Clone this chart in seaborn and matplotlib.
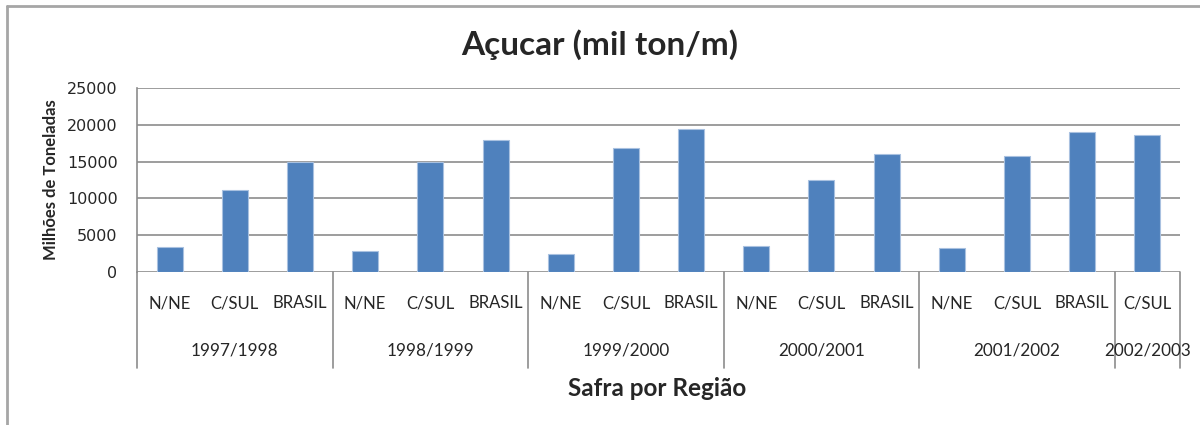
import seaborn as sns
import matplotlib.pyplot as plt
import pandas as pd
from matplotlib.lines import Line2D

# Safras e regiões
safras = ["1997/1998", "1998/1999", "1999/2000", "2000/2001", "2001/2002", "2002/2003"]
regioes = [
    ["N/NE", "C/SUL", "BRASIL"],
    ["N/NE", "C/SUL", "BRASIL"],
    ["N/NE", "C/SUL", "BRASIL"],
    ["N/NE", "C/SUL", "BRASIL"],
    ["N/NE", "C/SUL", "BRASIL"],
    ["C/SUL"],
]
valores = [
    [3400, 11200, 14900],
    [2800, 15000, 18000],
    [2400, 16800, 19400],
    [3600, 12500, 16000],
    [3200, 15800, 19000],
    [18600],
]

rows = []
for s, regs, vals in zip(safras, regioes, valores):
    for r, v in zip(regs, vals):
        rows.append({"key": f"{s} {r}", "safra": s, "regiao": r, "valor": v})
df = pd.DataFrame(rows)

sns.set_style("white")
plt.rcParams["font.family"] = ["Lato", "DejaVu Sans"]

fig = plt.figure(figsize=(12, 4.25), dpi=100)
ax = fig.add_axes([0.1142, 0.36, 0.8691, 0.433])

sns.barplot(data=df, x="key", y="valor", color="#4F81BD", width=0.4,
            saturation=1, edgecolor="#A9C1E0", linewidth=0.8, ax=ax)

ax.set_ylim(0, 25000)
ax.set_yticks(range(0, 25001, 5000))
ax.set_xlim(-0.5, len(df) - 0.5)
ax.yaxis.grid(True, color="#8C8C8C", linewidth=1.2)
ax.set_axisbelow(True)
for side in ["top", "right", "bottom"]:
    ax.spines[side].set_visible(False)
ax.spines["left"].set_color("#8C8C8C")
ax.spines["left"].set_linewidth(1.2)
ax.tick_params(axis="y", length=5, color="#8C8C8C", pad=9)
for lbl in ax.get_yticklabels():
    lbl.set_fontfamily("DejaVu Sans")
    lbl.set_fontsize(11.5)
ax.tick_params(axis="x", length=0)
ax.set_xticks([])
ax.set_xlabel("")
ax.set_ylabel("Milhões de Toneladas", fontsize=12, fontweight="bold", labelpad=6)

# rótulos de categoria em dois níveis
trans = ax.get_xaxis_transform()
for i, r in enumerate(df["regiao"]):
    ax.text(i, -0.17, r, transform=trans, ha="center", va="center", fontsize=12)

start = 0
bounds = [-0.5]
for s, regs in zip(safras, regioes):
    n = len(regs)
    ax.text(start + (n - 1) / 2, -0.425, s, transform=trans, ha="center",
            va="center", fontsize=12.3)
    start += n
    bounds.append(start - 0.5)
for b in bounds:
    ax.add_line(Line2D([b, b], [0, -0.52], transform=trans, color="#8C8C8C",
                       linewidth=1.2, clip_on=False))

fig.text(0.5, 0.894, "Açucar (mil ton/m)", ha="center", va="center",
         fontsize=24, fontweight="bold")
fig.text(0.548, 0.087, "Safra por Região", ha="center", va="center",
         fontsize=17.5, fontweight="bold")

# moldura do gráfico
fig.add_artist(Line2D([7 / 1200, 7 / 1200], [0, 1 - 6 / 425], color="#A6A6A6", linewidth=2))
fig.add_artist(Line2D([7 / 1200, 1], [1 - 6 / 425, 1 - 6 / 425], color="#A6A6A6", linewidth=2))

fig.savefig("out.png", dpi=100)
